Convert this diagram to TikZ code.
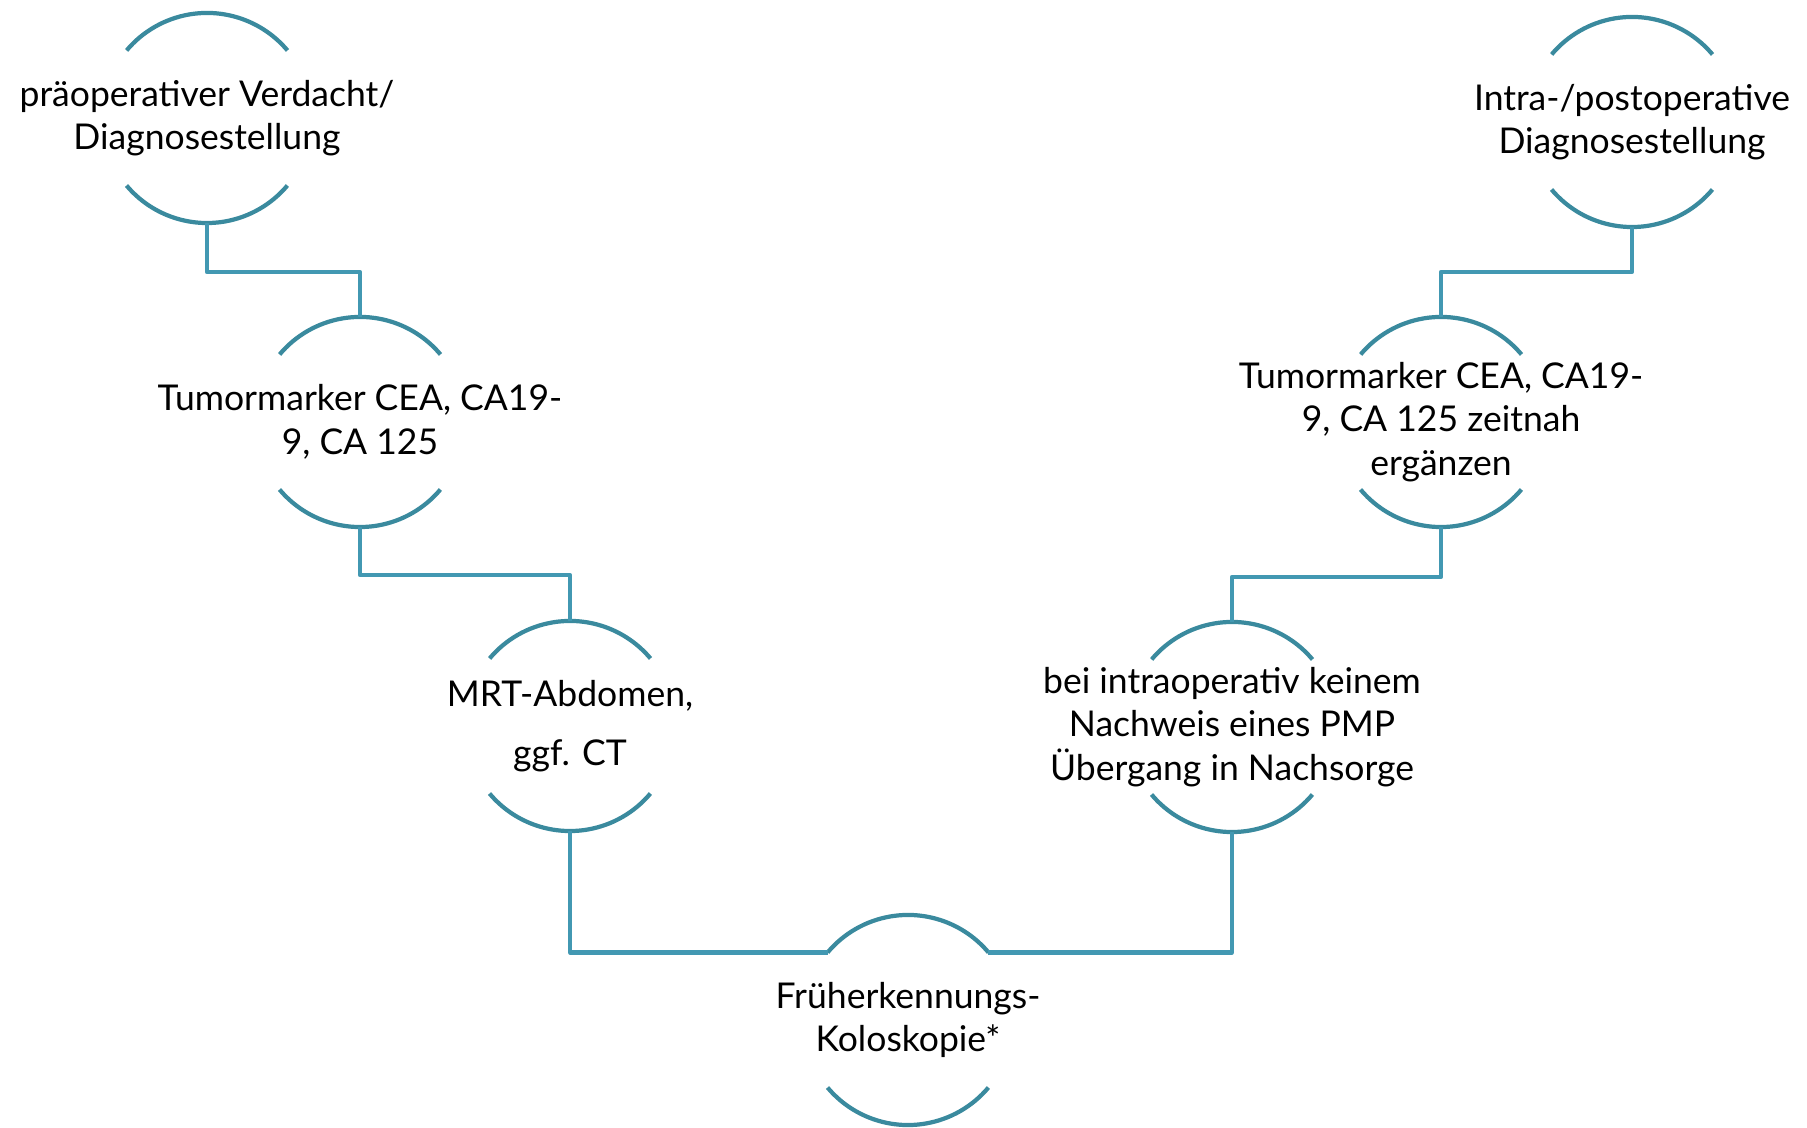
\documentclass[tikz,border=0pt]{standalone}
\usepackage{fontspec}
\setmainfont{Lato}
\usetikzlibrary{calc}
\definecolor{ringblue}{RGB}{58,138,158}
\definecolor{linkblue}{RGB}{66,152,178}
\newcommand*{\ringR}{105}

\tikzset{
	ring/.style={circle, minimum size=2.1cm, inner sep=0pt, outer sep=0pt},
	steptext/.style={align=center, inner sep=0pt, font=\fontsize{10.1pt}{12.4pt}\selectfont},
	arcline/.style={ringblue, line width=1.2pt},
	link/.style={linkblue, line width=1.2pt, line join=round},
}

\begin{document}
\begin{tikzpicture}[x=0.01cm,y=0.01cm]
	\useasboundingbox (0,0) rectangle (1807,1128);
	
	\node[ring] (c1) at (207,1010) {};
	\node[ring] (c2) at (360,706) {};
	\node[ring] (c3) at (570,402) {};
	\node[ring] (c4) at (908,108) {};
	\node[ring] (c5) at (1232,401) {};
	\node[ring] (c6) at (1441,706) {};
	\node[ring] (c7) at (1632,1006) {};
	
	\node[steptext] (t1) at (c1) {präoperativer Verdacht/\\Diagnosestellung};
	\node[steptext] (t2) at (c2) {Tumormarker CEA, CA19-\\9, CA 125};
	\node[steptext] (t3) at (c3) {MRT-Abdomen,\\[0.15cm]ggf. CT};
	\node[steptext] (t4) at (c4) {Früherkennungs-\\Koloskopie*};
	\node[steptext] (t5) at (c5) {bei intraoperativ keinem\\Nachweis eines PMP\\Übergang in Nachsorge};
	\node[steptext] (t6) at (c6) {Tumormarker CEA, CA19-\\9, CA 125 zeitnah\\ergänzen};
	\node[steptext] (t7) at (c7) {Intra-/postoperative\\Diagnosestellung};
	
	\draw[arcline] (c1.40) arc[start angle=40, end angle=140, radius=\ringR];
	\draw[arcline] (c1.220) arc[start angle=220, end angle=320, radius=\ringR];
	\draw[arcline] (c2.40) arc[start angle=40, end angle=140, radius=\ringR];
	\draw[arcline] (c2.220) arc[start angle=220, end angle=320, radius=\ringR];
	\draw[arcline] (c3.40) arc[start angle=40, end angle=140, radius=\ringR];
	\draw[arcline] (c3.220) arc[start angle=220, end angle=320, radius=\ringR];
	\draw[arcline] (c4.40) arc[start angle=40, end angle=140, radius=\ringR];
	\draw[arcline] (c4.220) arc[start angle=220, end angle=320, radius=\ringR];
	\draw[arcline] (c5.40) arc[start angle=40, end angle=140, radius=\ringR];
	\draw[arcline] (c5.220) arc[start angle=220, end angle=320, radius=\ringR];
	\draw[arcline] (c6.40) arc[start angle=40, end angle=140, radius=\ringR];
	\draw[arcline] (c6.220) arc[start angle=220, end angle=320, radius=\ringR];
	\draw[arcline] (c7.40) arc[start angle=40, end angle=140, radius=\ringR];
	\draw[arcline] (c7.220) arc[start angle=220, end angle=320, radius=\ringR];
	
	% left branch
	\draw[link] (c1.south) -- ++(0,-49) -| (c2.north);
	\draw[link] (c2.south) -- ++(0,-48) -| (c3.north);
	\draw[link] (c3.south) |- (c4.140);
	% right branch
	\draw[link] (c4.40) -| (c5.south);
	\draw[link] (c5.north) -- ++(0,45) -| (c6.south);
	\draw[link] (c6.north) -- ++(0,45) -| (c7.south);
\end{tikzpicture}
\end{document}
